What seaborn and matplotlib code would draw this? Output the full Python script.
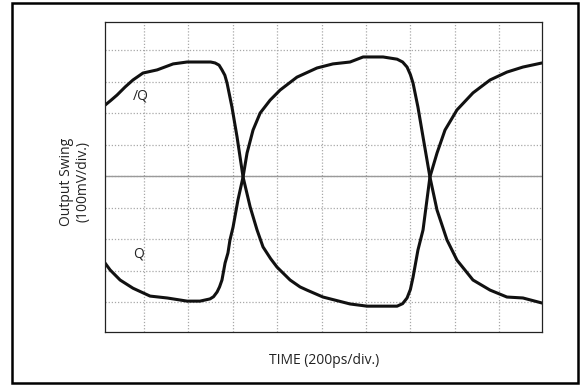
import numpy as np
import pandas as pd
import matplotlib
matplotlib.use("Agg")
import matplotlib.pyplot as plt
import seaborn as sns
from matplotlib.patches import Rectangle

# scope trace: time in ps, swing in mV
t_nq = [-176, -150, -122, -85, -50, -5, 59, 131, 194, 252, 300, 320, 338, 351, 364, 374, 396,
        419, 446, 478, 509, 536, 570, 599, 658, 703, 734, 806, 928, 1005, 1140, 1165, 1185,
        1200, 1212, 1234, 1257, 1288, 1320, 1356, 1410, 1482, 1559, 1635, 1707, 1793]
v_nq = [225, 240, 257, 283, 305, 327, 337, 356, 362, 362, 362, 359, 352, 337, 320, 295, 219,
        124, -3, -98, -171, -225, -262, -289, -330, -352, -362, -384, -406, -413, -413, -405,
        -387, -360, -321, -235, -171, -3, 73, 146, 210, 264, 305, 330, 346, 359]

t_q = [-176, -153, -108, -50, 27, 104, 194, 252, 297, 313, 329, 340, 351, 365, 378, 387, 401,
       423, 446, 464, 491, 523, 568, 613, 689, 779, 851, 928, 987, 1077, 1140, 1165, 1185,
       1200, 1212, 1234, 1257, 1288, 1320, 1365, 1410, 1482, 1559, 1635, 1707, 1793]
v_q = [-276, -298, -330, -356, -381, -387, -397, -397, -390, -383, -368, -352, -330, -276,
       -244, -203, -162, -76, -3, 73, 146, 200, 241, 273, 314, 343, 356, 362, 378, 378, 371,
       362, 346, 322, 295, 219, 124, -3, -108, -203, -267, -330, -362, -384, -387, -403]

x_label = "TIME (200ps/div.)"
y_label = "Output Swing\n(100mV/div.)"

sns.set_style("white")
plt.rcParams['font.family'] = ['Open Sans', 'DejaVu Sans']

fig = plt.figure(figsize=(5.86, 3.86), dpi=100)
ax = fig.add_axes([0.1792, 0.1399, 0.7457, 0.8031])

df_nq = pd.DataFrame({'t': t_nq, 'v': v_nq})
df_q = pd.DataFrame({'t': t_q, 'v': v_q})
sns.lineplot(data=df_nq, x='t', y='v', ax=ax, color='#111111', lw=2.2, estimator=None, sort=False)
sns.lineplot(data=df_q, x='t', y='v', ax=ax, color='#111111', lw=2.2, estimator=None, sort=False)
for ln in ax.get_lines():
    ln.set_solid_joinstyle('round')

ax.set_xlim(-176, 1793)
ax.set_ylim(-495, 489)
ax.set_xticks(np.arange(0, 1700, 200))
ax.set_yticks(np.arange(-400, 401, 100))
ax.tick_params(length=0, labelbottom=False, labelleft=False)
ax.grid(True, ls=(0, (1, 1.5)), color='#a8a8a8', lw=0.9)
ax.axhline(0, color='#9a9a9a', lw=1.0, zorder=1)
ax.set_xlabel('')
ax.set_ylabel('')
for s in ax.spines.values():
    s.set_color('#222222')
    s.set_linewidth(0.9)

ax.text(-14, 254, "/Q", fontsize=10, ha='center', va='center', color='#222222')
ax.text(-27, -248, "Q", fontsize=10, ha='center', va='center', color='#222222')

fig.text(324 / 586, 1 - 361 / 386, x_label, fontsize=10, ha='center', va='center', color='#222222')
fig.text(75 / 586, 1 - 182 / 386, y_label, fontsize=10, ha='center', va='center',
         rotation=90, multialignment='center', linespacing=1.15, color='#222222')

# outer frame
fig.patches.append(Rectangle((12 / 586, 3 / 386), 566 / 586, 380 / 386, transform=fig.transFigure,
                             fill=False, ec='black', lw=1.8))

fig.savefig("out.png", dpi=100)
